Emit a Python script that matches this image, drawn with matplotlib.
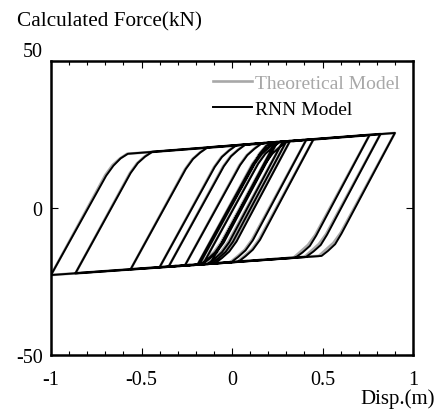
import matplotlib
matplotlib.use('Agg')
import matplotlib.pyplot as plt
from matplotlib.ticker import MultipleLocator

# hysteresis path (displacement in m, force in kN)
disp_theory = [
    0.00, 0.15, 0.185, 0.22, 0.24,
    -0.06, -0.10, -0.14, -0.18, -0.19,
    0.11, 0.15, 0.19, 0.23, 0.25,
    -0.05, -0.09, -0.13, -0.17, -0.18,
    0.12, 0.16, 0.20, 0.24, 0.28,
    -0.02, -0.06, -0.10, -0.14, -0.16,
    0.14, 0.18, 0.22, 0.26, 0.32,
    0.02, -0.02, -0.06, -0.10, -0.12,
    0.18, 0.22, 0.26, 0.30, 0.41,
    0.11, 0.07, 0.03, -0.01, -0.26,
    0.04, 0.08, 0.12, 0.16, 0.30,
    0.00, -0.04, -0.08, -0.12, -0.35,
    -0.05, -0.01, 0.03, 0.07, 0.45,
    0.15, 0.11, 0.07, 0.03, -0.40,
    -0.10, -0.06, -0.02, 0.02, 0.76,
    0.46, 0.42, 0.38, 0.34, -0.56,
    -0.26, -0.22, -0.18, -0.14, 0.82,
    0.52, 0.48, 0.44, 0.40, -0.865,
    -0.565, -0.525, -0.485, -0.445, 0.90,
    0.60, 0.56, 0.52, 0.48, -1.00,
    -0.70, -0.66, -0.62, -0.58, 0.20,
]
force_theory = [
    1.4, 18.4, 21.0, 22.26, 22.35,
    -11.65, -15.05, -17.25, -19.19, -19.24,
    14.76, 18.16, 20.36, 22.30, 22.40,
    -11.6, -15.0, -17.2, -19.15, -19.19,
    14.81, 18.21, 20.41, 22.35, 22.54,
    -11.46, -14.86, -17.06, -19.02, -19.10,
    14.90, 18.30, 20.50, 22.45, 22.74,
    -11.26, -14.66, -16.86, -18.84, -18.93,
    15.07, 18.47, 20.67, 22.64, 23.17,
    -10.83, -14.23, -16.43, -18.44, -19.54,
    14.46, 17.86, 20.06, 21.97, 22.64,
    -11.36, -14.76, -16.96, -18.93, -19.94,
    14.06, 17.46, 19.66, 21.54, 23.36,
    -10.64, -14.04, -16.24, -18.27, -20.16,
    13.84, 17.24, 19.44, 21.30, 24.85,
    -9.15, -12.55, -14.75, -16.90, -20.86,
    13.14, 16.54, 18.74, 20.53, 25.14,
    -8.86, -12.26, -14.46, -16.64, -22.21,
    11.79, 15.19, 17.39, 19.06, 25.52,
    -8.48, -11.88, -14.08, -16.29, -22.80,
    11.20, 14.60, 16.80, 18.42, 22.16,
]

disp_rnn = [
    0.00, 0.155, 0.19, 0.225, 0.24,
    -0.055, -0.095, -0.135, -0.175, -0.19,
    0.115, 0.155, 0.195, 0.235, 0.25,
    -0.045, -0.085, -0.125, -0.165, -0.18,
    0.125, 0.165, 0.205, 0.245, 0.28,
    -0.015, -0.055, -0.095, -0.135, -0.16,
    0.145, 0.185, 0.225, 0.265, 0.32,
    0.025, -0.015, -0.055, -0.095, -0.12,
    0.185, 0.225, 0.265, 0.305, 0.41,
    0.115, 0.075, 0.035, -0.005, -0.26,
    0.045, 0.085, 0.125, 0.165, 0.30,
    0.005, -0.035, -0.075, -0.115, -0.35,
    -0.045, -0.005, 0.035, 0.075, 0.45,
    0.155, 0.115, 0.075, 0.035, -0.40,
    -0.095, -0.055, -0.015, 0.025, 0.76,
    0.465, 0.43, 0.39, 0.35, -0.56,
    -0.255, -0.215, -0.175, -0.135, 0.82,
    0.525, 0.49, 0.45, 0.41, -0.865,
    -0.56, -0.52, -0.48, -0.44, 0.90,
    0.605, 0.57, 0.53, 0.495, -1.00,
    -0.695, -0.655, -0.615, -0.575, 0.20,
]
force_rnn = [
    1.4, 18.6, 21.2, 22.3, 22.35,
    -11.8, -15.2, -17.4, -19.2, -19.24,
    14.9, 18.3, 20.5, 22.3, 22.40,
    -11.7, -15.1, -17.3, -19.2, -19.19,
    15.0, 18.4, 20.6, 22.4, 22.54,
    -11.6, -15.0, -17.2, -19.05, -19.10,
    15.1, 18.5, 20.6, 22.5, 22.74,
    -11.4, -14.8, -17.0, -18.9, -18.93,
    15.2, 18.6, 20.8, 22.7, 23.17,
    -11.0, -14.4, -16.6, -18.5, -19.54,
    14.6, 18.0, 20.2, 22.0, 22.64,
    -11.5, -14.9, -17.1, -19.0, -19.94,
    14.2, 17.6, 19.8, 21.6, 23.36,
    -10.8, -14.2, -16.4, -18.3, -20.16,
    14.0, 17.4, 19.6, 21.35, 24.85,
    -9.4, -12.9, -15.1, -16.9, -20.86,
    13.3, 16.7, 18.9, 20.6, 25.14,
    -9.1, -12.6, -14.8, -16.6, -22.21,
    11.9, 15.3, 17.5, 19.1, 25.52,
    -8.7, -12.3, -14.6, -16.3, -22.80,
    11.0, 14.4, 16.9, 18.45, 22.16,
]

x_ticks = [-1, -0.5, 0, 0.5, 1]
x_tick_labels = ['-1', '-0.5', '0', '0.5', '1']
y_ticks = [-50, 0, 50]
y_tick_labels = ['-50', '0', '50']

plt.rcParams['font.family'] = ['Liberation Serif', 'DejaVu Serif']
plt.rcParams['axes.unicode_minus'] = False

fig = plt.figure(figsize=(4.4, 4.1), dpi=100)
ax = fig.add_axes([51 / 440, 1 - 356 / 410, 362 / 440, 294 / 410])

ax.plot(disp_theory, force_theory, color='#a8a8a8', lw=1.9,
        solid_joinstyle='round', label='Theoretical Model')
ax.plot(disp_rnn, force_rnn, color='black', lw=1.4,
        solid_joinstyle='round', label='RNN Model')

ax.set_xlim(-1, 1)
ax.set_ylim(-50, 50)
ax.set_xticks(x_ticks)
ax.set_xticklabels(x_tick_labels)
ax.xaxis.set_minor_locator(MultipleLocator(0.1))
ax.set_yticks(y_ticks)
ax.set_yticklabels(y_tick_labels)

ax.tick_params(which='both', direction='in', top=True, right=True,
               labelsize=14.5, width=0.8)
ax.tick_params(which='major', length=5)
ax.tick_params(which='minor', length=3)
ax.tick_params(axis='x', pad=11)
ax.tick_params(axis='y', pad=6)
for spine in ax.spines.values():
    spine.set_linewidth(1.8)

# the top label sits just above the frame in the reference
ax.yaxis.get_major_ticks()[2].label1.set_verticalalignment('bottom')

ax.legend(loc='upper left', bbox_to_anchor=(0.4475, 0.954), frameon=False,
          fontsize=14, handlelength=2.0, handletextpad=0.15,
          labelspacing=0.42, borderpad=0, borderaxespad=0,
          labelcolor='linecolor')

fig.text(17 / 440, 1 - 22 / 410, 'Calculated Force(kN)', fontsize=15.3,
         ha='left', va='center')
fig.text(435 / 440, 1 - 404 / 410, 'Disp.(m)', fontsize=15,
         ha='right', va='baseline')

fig.savefig('out.png', dpi=100)
